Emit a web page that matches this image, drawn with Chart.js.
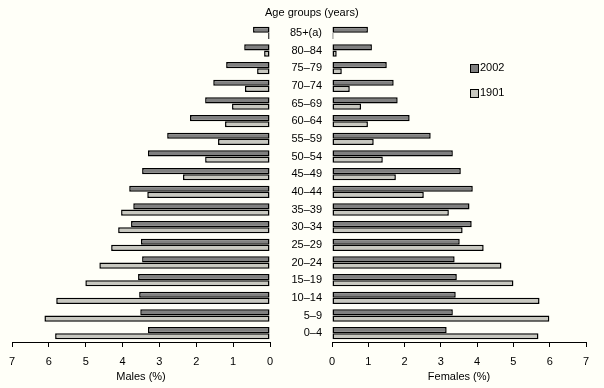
<!DOCTYPE html>
<html>
<head>
<meta charset="utf-8">
<script src="https://cdn.jsdelivr.net/npm/chart.js@4"></script>
<style>
  body { margin: 0; background: #fffff8; font-family: "Liberation Sans", Arial, sans-serif; }
  #wrap { position: relative; width: 604px; height: 388px; }
  canvas { position: absolute; left: 0; top: 0; }
  .txt { position: absolute; font-size: 11px; color: #000; white-space: nowrap; }
  .box { position: absolute; width: 7px; height: 7px; border: 1px solid #000; }
</style>
</head>
<body>
<div id="wrap">
  <canvas id="males" width="604" height="388"></canvas>
  <canvas id="females" width="604" height="388"></canvas>
  <div class="txt" style="left:265px; top:6px;">Age groups (years)</div>
  <div class="box" style="left:470px; top:64px; background:#808080;"></div>
  <div class="txt" style="left:480px; top:61px;">2002</div>
  <div class="box" style="left:470px; top:89px; background:#c8c8c0;"></div>
  <div class="txt" style="left:480px; top:86px;">1901</div>
</div>
<script>
// ===== DONNÉES =====
var ageGroups = ['85+(a)', '80–84', '75–79', '70–74', '65–69', '60–64', '55–59', '50–54', '45–49',
                 '40–44', '35–39', '30–34', '25–29', '20–24', '15–19', '10–14', '5–9', '0–4'];
var years = ['2002', '1901'];

var males2002 = [0.46, 0.70, 1.19, 1.54, 1.76, 2.17, 2.79, 3.31, 3.47,
                 3.82, 3.71, 3.77, 3.50, 3.47, 3.58, 3.55, 3.52, 3.31];
var males1901 = [0.05, 0.16, 0.35, 0.68, 1.03, 1.22, 1.41, 1.76, 2.36,
                 3.33, 4.04, 4.12, 4.31, 4.63, 5.01, 5.80, 6.12, 5.83];
var females2002 = [0.99, 1.10, 1.51, 1.70, 1.81, 2.14, 2.72, 3.33, 3.55,
                   3.88, 3.79, 3.85, 3.52, 3.38, 3.44, 3.41, 3.33, 3.16];
var females1901 = [0.04, 0.13, 0.27, 0.49, 0.80, 0.99, 1.15, 1.40, 1.76,
                   2.53, 3.22, 3.60, 4.18, 4.67, 5.00, 5.72, 5.99, 5.69];

var xTicks = [0, 1, 2, 3, 4, 5, 6, 7];

var colDark = '#808080';
var colLight = '#c8c8c0';
var police = { family: '"Liberation Sans", Arial, sans-serif', size: 11 };

Chart.defaults.color = '#000';
Chart.defaults.font = police;
Chart.defaults.animation = false;

// jeux de données communs aux deux côtés
function datasets(d2002, d1901) {
    return [
        { label: years[0], data: d2002, backgroundColor: colDark, borderColor: '#000', borderWidth: 1.5,
          borderSkipped: false, inflateAmount: 0, categoryPercentage: 0.7, barPercentage: 1 },
        { label: years[1], data: d1901, backgroundColor: colLight, borderColor: '#000', borderWidth: 1.5,
          borderSkipped: false, inflateAmount: 0, categoryPercentage: 0.7, barPercentage: 1 }
    ];
}

// axe des x (pourcentages)
function axeX(titre, inverse) {
    return {
        type: 'linear',
        min: 0,
        max: 7,
        reverse: inverse,
        afterBuildTicks: function (scale) { scale.ticks = xTicks.map(v => ({ value: v })); },
        afterFit: function (scale) { scale.height = 46; },
        grid: { drawOnChartArea: false, drawTicks: true, tickLength: 5, color: '#000' },
        border: { display: true, color: '#000', width: 1 },
        ticks: { padding: 8, font: police },
        title: { display: true, text: titre, font: police, padding: { top: 4, bottom: 4 } }
    };
}

// ---- Hommes (gauche) ----
new Chart(document.getElementById('males'), {
    type: 'bar',
    data: { labels: ageGroups, datasets: datasets(males2002, males1901) },
    options: {
        indexAxis: 'y',
        responsive: false,
        layout: { padding: { left: 12, right: 334, top: 24, bottom: 0 } },
        plugins: { legend: { display: false }, tooltip: { enabled: false } },
        scales: {
            x: axeX('Males (%)', true),
            y: { display: false }
        }
    }
});

// ---- Femmes (droite) ----
new Chart(document.getElementById('females'), {
    type: 'bar',
    data: { labels: ageGroups, datasets: datasets(females2002, females1901) },
    options: {
        indexAxis: 'y',
        responsive: false,
        layout: { padding: { left: 272, right: 18, top: 24, bottom: 0 } },
        plugins: { legend: { display: false }, tooltip: { enabled: false } },
        scales: {
            x: axeX('Females (%)', false),
            y: {
                afterFit: function (scale) { scale.width = 60; },
                grid: { display: false, drawTicks: false },
                border: { display: false },
                ticks: { padding: 10, font: police }
            }
        }
    }
});
</script>
</body>
</html>
